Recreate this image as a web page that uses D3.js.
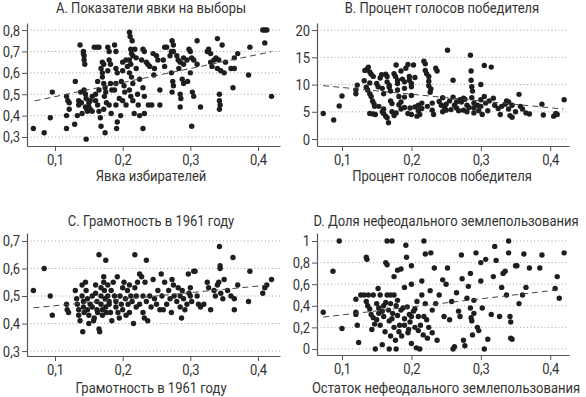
<!DOCTYPE html>
<html>
<head>
<meta charset="utf-8">
<script src="https://cdn.jsdelivr.net/npm/d3@7"></script>
<style>
  body { margin: 0; background: #fff; }
  text { font-family: "Roboto", "Liberation Sans", sans-serif; fill: #333; }
</style>
</head>
<body>
<svg id="chart"></svg>
<script>
// scatter panels A-D

const xTicks = [0.1, 0.2, 0.3, 0.4];

const titleA = "А. Показатели явки на выборы";
const axisTitleA = "Явка избирателей";
const yTicksA = [0.3, 0.4, 0.5, 0.6, 0.7, 0.8];
const fitA = [[0.07, 0.469], [0.42, 0.699]];
const pointsA = [
  [0.068,0.34],[0.084,0.32],[0.093,0.39],[0.096,0.51],
  [0.117,0.49],[0.119,0.47],[0.121,0.46],[0.117,0.40],[0.117,0.34],[0.121,0.43],
  [0.13,0.56],[0.129,0.36],[0.133,0.40],[0.135,0.47],[0.135,0.45],[0.137,0.73],[0.138,0.51],[0.139,0.46],[0.14,0.41],
  [0.142,0.70],[0.142,0.69],[0.143,0.68],[0.143,0.66],[0.144,0.64],[0.143,0.52],[0.145,0.50],[0.146,0.48],[0.145,0.44],
  [0.147,0.43],[0.148,0.42],[0.146,0.29],[0.15,0.46],[0.15,0.44],[0.152,0.47],[0.152,0.43],[0.155,0.49],[0.155,0.42],
  [0.158,0.72],[0.162,0.72],[0.165,0.72],[0.163,0.56],[0.165,0.52],[0.16,0.50],[0.16,0.47],[0.163,0.45],[0.165,0.42],
  [0.167,0.39],[0.168,0.35],[0.17,0.65],[0.172,0.64],[0.168,0.62],[0.17,0.60],[0.17,0.58],[0.172,0.55],[0.174,0.53],
  [0.175,0.51],[0.173,0.49],[0.176,0.46],[0.172,0.43],[0.174,0.32],[0.178,0.72],[0.18,0.70],[0.18,0.66],[0.182,0.64],
  [0.178,0.61],[0.182,0.55],[0.184,0.52],[0.18,0.45],[0.183,0.41],
  [0.188,0.73],[0.19,0.70],[0.19,0.62],[0.192,0.60],[0.19,0.55],[0.188,0.52],[0.19,0.45],[0.192,0.37],[0.191,0.34],
  [0.195,0.48],[0.197,0.40],[0.198,0.56],[0.2,0.65],[0.2,0.61],[0.202,0.54],[0.203,0.51],[0.2,0.47],[0.205,0.66],
  [0.207,0.63],[0.205,0.45],
  [0.21,0.79],[0.211,0.77],[0.214,0.75],[0.212,0.71],[0.213,0.69],[0.215,0.68],[0.21,0.66],[0.212,0.64],[0.21,0.60],
  [0.213,0.58],[0.215,0.55],[0.21,0.52],[0.212,0.49],[0.215,0.47],[0.217,0.41],[0.22,0.62],[0.22,0.67],[0.218,0.71],
  [0.222,0.50],[0.223,0.45],[0.225,0.40],[0.225,0.57],[0.228,0.66],[0.23,0.71],
  [0.232,0.70],[0.23,0.53],[0.232,0.49],[0.232,0.41],[0.23,0.34],[0.235,0.65],[0.237,0.64],[0.24,0.63],[0.238,0.45],
  [0.243,0.45],[0.245,0.69],[0.247,0.62],[0.246,0.59],
  [0.25,0.68],[0.252,0.66],[0.255,0.52],[0.255,0.45],[0.26,0.66],[0.262,0.72],[0.265,0.72],[0.262,0.63],
  [0.27,0.68],[0.272,0.70],[0.273,0.75],[0.275,0.73],[0.275,0.70],[0.272,0.60],[0.274,0.56],[0.275,0.54],[0.273,0.51],
  [0.28,0.68],[0.282,0.66],[0.285,0.65],[0.283,0.62],[0.285,0.50],[0.286,0.48],[0.285,0.44],[0.29,0.67],[0.29,0.64],
  [0.288,0.57],[0.29,0.55],
  [0.295,0.66],[0.296,0.56],[0.298,0.71],[0.3,0.70],[0.302,0.67],[0.305,0.66],[0.3,0.60],[0.303,0.51],[0.305,0.49],
  [0.302,0.35],[0.31,0.64],[0.31,0.75],[0.315,0.44],
  [0.325,0.70],[0.327,0.71],[0.33,0.69],[0.33,0.65],[0.332,0.63],[0.335,0.66],[0.338,0.67],[0.34,0.76],[0.342,0.66],
  [0.34,0.62],[0.345,0.61],[0.347,0.73],[0.343,0.50],[0.343,0.47],[0.344,0.45],[0.343,0.43],[0.35,0.60],[0.352,0.65],
  [0.36,0.62],[0.363,0.53],[0.365,0.62],[0.365,0.67],[0.37,0.69],[0.386,0.59],[0.388,0.72],[0.407,0.80],[0.41,0.80],
  [0.41,0.74],[0.413,0.80],[0.42,0.49]
];

const titleB = "B. Процент голосов победителя";
const axisTitleB = "Процент голосов победителя";
const yTicksB = [0, 5, 10, 15, 20];
const fitB = [[0.073, 9.8], [0.419, 5.5]];
const pointsB = [
  [0.073,4.7],[0.088,3.5],[0.096,6.05],[0.1,7.9],[0.12,9.0],[0.12,8.3],[0.122,9.9],[0.132,10.7],
  [0.133,12.6],[0.136,12.8],[0.138,13.2],[0.14,12.3],[0.142,11.9],[0.145,11.5],[0.14,10.3],[0.135,9.5],[0.137,9.0],
  [0.14,8.3],[0.142,7.8],[0.144,7.0],[0.146,6.5],[0.147,6.0],[0.14,4.7],[0.145,4.6],[0.148,4.5],[0.15,10.2],
  [0.152,9.6],[0.155,11.2],[0.157,11.8],[0.158,9.3],[0.16,8.3],[0.16,5.5],[0.16,4.7],[0.163,4.2],[0.165,3.9],
  [0.167,3.0],[0.163,11.9],[0.165,11.5],[0.165,10.5],[0.168,9.9],[0.168,9.5],[0.17,8.8],[0.17,7.0],[0.172,6.5],
  [0.172,5.0],[0.175,4.3],[0.175,12.0],[0.177,11.5],[0.178,13.6],[0.18,10.8],[0.18,10.2],[0.18,9.0],[0.182,7.8],
  [0.182,6.3],[0.185,5.5],[0.185,12.5],[0.187,11.0],[0.19,10.5],[0.19,9.3],[0.19,7.7],[0.192,13.0],[0.195,13.7],
  [0.197,11.5],[0.197,10.8],[0.2,10.2],[0.2,9.6],[0.2,8.0],[0.195,4.7],[0.2,4.5],[0.198,5.7],[0.203,13.6],
  [0.205,11.3],[0.205,5.9],[0.208,4.2],[0.21,6.2],[0.21,5.2],[0.212,4.5],[0.215,6.6],[0.215,5.6],[0.218,14.3],
  [0.22,13.8],[0.22,12.6],[0.222,12.0],[0.223,6.0],[0.225,11.5],[0.225,10.6],[0.225,9.8],[0.228,9.2],[0.227,8.6],
  [0.23,6.6],[0.23,5.3],[0.232,4.5],[0.235,13.0],[0.237,12.5],[0.24,6.9],[0.243,6.2],[0.245,5.0],[0.248,5.7],
  [0.25,6.4],[0.252,16.3],[0.255,7.0],[0.257,5.4],[0.26,10.8],[0.262,6.2],[0.265,5.7],[0.27,7.2],[0.272,6.8],
  [0.275,7.5],[0.275,5.3],[0.28,6.2],[0.28,5.0],[0.285,15.4],[0.286,12.5],[0.286,10.8],[0.287,9.6],[0.288,8.8],
  [0.287,7.6],[0.29,6.6],[0.29,5.7],[0.29,4.8],[0.295,6.2],[0.297,5.2],[0.3,10.0],[0.3,7.2],[0.3,6.0],[0.302,4.5],
  [0.305,13.5],[0.305,7.8],[0.307,6.6],[0.31,5.2],[0.312,7.0],[0.315,13.2],[0.318,7.5],[0.32,6.2],[0.325,5.6],
  [0.328,4.5],[0.33,6.0],[0.335,6.4],[0.337,7.0],[0.34,6.8],[0.34,5.5],[0.342,4.3],[0.345,4.0],[0.345,6.2],
  [0.35,5.0],[0.355,8.2],[0.357,6.0],[0.36,5.5],[0.365,4.8],[0.37,4.6],[0.388,6.4],[0.39,4.4],[0.405,4.2],
  [0.408,4.7],[0.41,4.5],[0.42,7.2],
  [0.265,6.8],[0.268,5.2],[0.277,7.3],[0.283,5.8],[0.26,7.7],[0.25,5.3],[0.245,7.6],
  [0.153,6.0],[0.178,4.8],[0.19,5.8],[0.185,6.8],[0.158,5.0]
];

const titleC = "C. Грамотность в 1961 году";
const axisTitleC = "Грамотность в 1961 году";
const yTicksC = [0.3, 0.4, 0.5, 0.6, 0.7];
const fitC = [[0.068, 0.457], [0.412, 0.539]];
const pointsC = [
  [0.068,0.52],[0.084,0.60],[0.093,0.50],[0.096,0.43],
  [0.117,0.47],[0.118,0.45],[0.12,0.44],[0.13,0.52],[0.132,0.49],[0.133,0.47],[0.135,0.45],[0.135,0.43],[0.137,0.41],
  [0.14,0.54],[0.14,0.50],[0.142,0.48],[0.142,0.46],[0.143,0.44],[0.141,0.37],[0.145,0.55],[0.146,0.52],[0.148,0.49],
  [0.148,0.45],[0.15,0.43],[0.15,0.40],[0.152,0.47],[0.155,0.50],[0.155,0.46],[0.157,0.41],[0.158,0.42],[0.16,0.54],
  [0.16,0.51],[0.162,0.48],[0.162,0.45],[0.163,0.44],[0.165,0.65],[0.165,0.38],[0.166,0.37],[0.168,0.53],[0.168,0.50],
  [0.168,0.47],[0.17,0.45],[0.17,0.43],[0.172,0.57],[0.172,0.55],[0.173,0.52],[0.174,0.49],[0.175,0.63],[0.175,0.46],
  [0.176,0.44],[0.178,0.54],[0.178,0.50],[0.18,0.48],[0.18,0.47],[0.182,0.44],[0.183,0.52],[0.184,0.41],[0.186,0.55],
  [0.188,0.50],[0.19,0.48],[0.19,0.46],[0.192,0.57],[0.193,0.44],[0.195,0.42],[0.196,0.50],[0.198,0.47],[0.2,0.53],
  [0.2,0.45],[0.202,0.55],[0.204,0.49],[0.205,0.43],[0.207,0.52],[0.208,0.47],[0.21,0.54],[0.21,0.44],[0.212,0.50],
  [0.214,0.48],[0.216,0.40],[0.218,0.65],[0.218,0.53],[0.22,0.50],[0.22,0.46],[0.222,0.55],[0.225,0.47],[0.225,0.58],
  [0.228,0.57],[0.23,0.50],[0.23,0.44],[0.232,0.42],[0.233,0.55],[0.235,0.63],[0.235,0.48],[0.237,0.41],[0.24,0.50],
  [0.242,0.46],[0.245,0.56],[0.247,0.49],[0.25,0.47],[0.252,0.52],[0.255,0.45],[0.257,0.58],[0.258,0.50],[0.26,0.45],
  [0.262,0.55],[0.265,0.47],[0.268,0.52],[0.27,0.49],[0.272,0.44],[0.273,0.56],[0.275,0.54],[0.276,0.50],[0.28,0.48],
  [0.282,0.53],[0.285,0.50],[0.285,0.46],[0.287,0.42],[0.288,0.52],[0.29,0.49],[0.292,0.45],[0.295,0.47],[0.297,0.58],
  [0.298,0.51],[0.3,0.53],[0.3,0.50],[0.302,0.48],[0.305,0.59],[0.307,0.59],[0.31,0.50],[0.312,0.47],[0.315,0.46],
  [0.32,0.47],[0.325,0.55],[0.327,0.53],[0.33,0.45],[0.335,0.52],[0.337,0.50],[0.34,0.54],[0.342,0.55],[0.343,0.68],
  [0.344,0.61],[0.344,0.60],[0.345,0.51],[0.348,0.49],[0.35,0.56],[0.355,0.52],[0.36,0.50],[0.363,0.64],[0.365,0.49],
  [0.365,0.45],[0.37,0.54],[0.386,0.48],[0.388,0.59],[0.407,0.51],[0.41,0.53],[0.413,0.54],[0.42,0.56]
];

const titleD = "D. Доля нефеодального землепользования";
const axisTitleD = "Остаток нефеодального землепользования";
const yTicksD = [0, 0.2, 0.4, 0.6, 0.8, 1];
const fitD = [[0.073, 0.295], [0.417, 0.552]];
const pointsD = [
  [0.073,0.34],[0.087,0.72],[0.096,1.0],[0.1,0.19],[0.12,0.46],[0.12,0.34],[0.12,0.32],[0.122,0.22],[0.124,0.06],
  [0.127,0.5],[0.132,0.5],[0.135,0.85],[0.136,0.83],[0.135,0.44],[0.137,0.4],[0.138,0.5],[0.14,0.37],[0.142,0.32],
  [0.143,0.18],[0.145,0.5],[0.145,0.29],[0.147,0.23],[0.148,0.0],[0.15,0.42],[0.15,0.27],[0.152,0.56],[0.153,0.33],
  [0.155,0.5],[0.155,0.22],[0.158,0.04],[0.16,0.4],[0.16,0.3],[0.162,0.16],[0.163,0.8],[0.165,0.78],[0.165,0.5],
  [0.165,1.0],[0.167,0.36],[0.168,0.26],[0.168,0.0],[0.17,0.5],[0.17,0.42],[0.17,0.12],[0.172,1.0],[0.173,0.33],
  [0.175,0.67],[0.175,0.5],[0.175,0.2],[0.177,0.08],[0.178,0.0],[0.18,0.73],[0.18,0.45],[0.18,0.31],[0.182,0.16],
  [0.185,0.74],[0.185,0.36],[0.186,0.12],[0.19,0.57],[0.19,0.28],[0.19,0.22],[0.192,0.96],[0.193,0.85],[0.194,0.39],
  [0.195,0.15],[0.197,0.32],[0.198,0.25],[0.2,0.77],[0.2,0.6],[0.2,0.05],[0.203,0.35],[0.205,0.2],[0.207,0.01],
  [0.208,0.44],[0.21,0.3],[0.21,0.17],[0.212,0.0],[0.215,0.63],[0.215,0.5],[0.217,0.13],[0.218,1.0],[0.22,0.88],
  [0.22,0.42],[0.222,0.27],[0.223,0.1],[0.225,0.2],[0.227,0.54],[0.228,0.89],[0.23,0.36],[0.23,0.15],[0.233,0.75],
  [0.235,0.42],[0.237,0.08],[0.24,0.5],[0.245,0.64],[0.247,0.3],[0.25,0.6],[0.252,0.75],[0.255,0.27],[0.258,0.44],
  [0.26,0.0],[0.262,0.02],[0.265,0.52],[0.268,0.35],[0.27,0.3],[0.272,0.87],[0.273,0.65],[0.275,0.08],[0.277,0.03],
  [0.28,0.47],[0.282,0.58],[0.285,0.7],[0.285,0.38],[0.286,0.29],[0.287,0.26],[0.288,0.13],[0.29,0.45],[0.29,0.33],
  [0.293,0.89],[0.295,0.2],[0.297,0.17],[0.3,0.8],[0.3,0.63],[0.302,0.38],[0.305,0.0],[0.307,0.83],[0.31,0.09],
  [0.315,0.32],[0.318,0.67],[0.32,0.95],[0.322,0.82],[0.327,0.3],[0.33,0.57],[0.332,0.7],[0.335,0.72],[0.337,0.5],
  [0.34,1.0],[0.34,0.89],[0.342,0.3],[0.343,0.25],[0.343,0.1],[0.345,0.09],[0.35,0.77],[0.352,0.77],[0.355,0.42],
  [0.36,0.5],[0.362,0.88],[0.365,0.57],[0.37,0.75],[0.385,0.75],[0.388,0.87],[0.407,0.56],[0.41,0.67],[0.413,0.47],
  [0.42,0.89],
  [0.158,0.35],[0.172,0.28],[0.183,0.22],[0.188,0.38],[0.196,0.18],[0.2,0.3],[0.205,0.37],[0.213,0.22],[0.218,0.3],
  [0.163,0.43],[0.178,0.4],[0.153,0.38]
];

const W = 586, H = 397;
const squeeze = 0.84; // narrow the glyphs, the print used a condensed face
const ru = d3.formatLocale({ decimal: ",", thousands: " ", grouping: [3], currency: ["", ""] });
const fmt = ru.format("~g");

const svg = d3.select("#chart")
  .attr("width", W)
  .attr("height", H);

svg.append("rect").attr("width", W).attr("height", H).attr("fill", "#fff");

function label(g, cx, cy, txt) {
  g.append("g")
    .attr("transform", `translate(${cx},${cy}) scale(${squeeze},1)`)
    .append("text")
    .attr("text-anchor", "middle")
    .attr("font-size", "15.5px")
    .attr("fill", "#333")
    .text(txt);
}

function drawPanel(p) {
  const x = d3.scaleLinear().domain(p.xDomain).range([p.left, p.right]);
  const y = d3.scaleLinear().domain(p.yDomain).range([p.bottom, p.top]);
  const g = svg.append("g");

  // dotted gridlines
  g.selectAll(".grid")
    .data(p.yTicks)
    .join("line")
    .attr("x1", p.left)
    .attr("x2", p.right)
    .attr("y1", d => y(d))
    .attr("y2", d => y(d))
    .attr("stroke", "#9a9a9a")
    .attr("stroke-width", 0.9)
    .attr("stroke-dasharray", "1,2.5");

  const xAxis = g.append("g")
    .attr("transform", `translate(0,${p.bottom})`)
    .call(d3.axisBottom(x).tickValues(xTicks).tickFormat(fmt).tickSize(5).tickSizeOuter(0).tickPadding(3));

  const yAxis = g.append("g")
    .attr("transform", `translate(${p.left},0)`)
    .call(d3.axisLeft(y).tickValues(p.yTicks).tickFormat(fmt).tickSize(5).tickSizeOuter(0).tickPadding(2));

  [xAxis, yAxis].forEach(a => {
    a.select(".domain").attr("stroke", "#555").attr("stroke-width", 1.2);
    a.selectAll(".tick line").attr("stroke", "#555");
    a.selectAll(".tick text")
      .attr("font-size", "15.5px")
      .attr("fill", "#333")
      .style("font-family", '"Roboto", sans-serif')
      .attr("transform", `scale(${squeeze},1)`);
  });
  yAxis.selectAll(".tick text").attr("x", -7 / squeeze);

  g.selectAll(".dot")
    .data(p.points)
    .join("circle")
    .attr("cx", d => x(d[0]))
    .attr("cy", d => y(d[1]))
    .attr("r", 2.7)
    .attr("fill", "#1e1e1e");

  g.append("path")
    .datum(p.fit)
    .attr("d", d3.line().x(d => x(d[0])).y(d => y(d[1])))
    .attr("fill", "none")
    .attr("stroke", "#444")
    .attr("stroke-width", 1)
    .attr("stroke-dasharray", "6,4");

  label(g, p.titleX, p.titleY, p.title);
  label(g, p.titleX, p.axisTitleY, p.axisTitle);
}

drawPanel({ title: titleA, axisTitle: axisTitleA, points: pointsA, fit: fitA, yTicks: yTicksA,
  xDomain: [0.0586, 0.4325], yDomain: [0.258, 0.833],
  left: 27, right: 280, top: 23, bottom: 146, titleX: 151, titleY: 13, axisTitleY: 181 });

drawPanel({ title: titleB, axisTitle: axisTitleB, points: pointsB, fit: fitB, yTicks: yTicksB,
  xDomain: [0.064, 0.427], yDomain: [-1.28, 21.3],
  left: 317, right: 569, top: 23, bottom: 146, titleX: 442, titleY: 13, axisTitleY: 181 });

drawPanel({ title: titleC, axisTitle: axisTitleC, points: pointsC, fit: fitC, yTicks: yTicksC,
  xDomain: [0.0586, 0.4325], yDomain: [0.282, 0.729],
  left: 27, right: 280, top: 233, bottom: 356, titleX: 151, titleY: 226, axisTitleY: 393 });

drawPanel({ title: titleD, axisTitle: axisTitleD, points: pointsD, fit: fitD, yTicks: yTicksD,
  xDomain: [0.064, 0.427], yDomain: [-0.056, 1.074],
  left: 317, right: 569, top: 233, bottom: 355, titleX: 446, titleY: 226, axisTitleY: 393 });
</script>
</body>
</html>
